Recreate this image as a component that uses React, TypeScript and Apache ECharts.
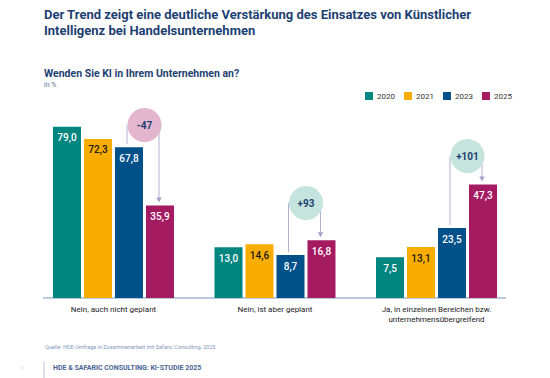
import React, { useEffect, useRef } from "react";
import * as echarts from "echarts";

const categories = [
  "Nein, auch nicht geplant",
  "Nein, ist aber geplant",
  "Ja, in einzelnen Bereichen bzw.\nunternehmensübergreifend",
];
const years = ["2020", "2021", "2023", "2025"];
const v2020 = [79.0, 13.0, 7.5];
const v2021 = [72.3, 14.6, 13.1];
const v2023 = [67.8, 8.7, 23.5];
const v2025 = [35.9, 16.8, 47.3];
const changeLabels = ["-47", "+93", "+101"];
const badgeLevels = [79.9, 37.2, 62.9];

const titleLines = [
  "Der Trend zeigt eine deutliche Verstärkung des Einsatzes von Künstlicher",
  "Intelligenz bei Handelsunternehmen",
];
const subtitle = "Wenden Sie KI in Ihrem Unternehmen an?";
const unit = "in %";
const source = "Quelle: HDE-Umfrage in Zusammenarbeit mit Safaric Consulting, 2025";
const footer = "HDE & SAFARIC CONSULTING: KI-STUDIE 2025";

const colors = ["#00857f", "#f8ad00", "#00508a", "#a51b62"];
const labelColors = ["#ffffff", "#1a1a1a", "#ffffff", "#ffffff"];
const NAVY = "#1d3f72";
const FONT = "Roboto, 'Noto Sans', sans-serif";

export default function App() {
  const ref = useRef<HTMLDivElement>(null);
  useEffect(() => {
    if (!ref.current) return;
    const chart = echarts.init(ref.current, null, { renderer: "svg" });
    const seriesValues = [v2020, v2021, v2023, v2025];
    const barSeries = years.map((y, k) => ({
      name: y,
      type: "bar",
      data: seriesValues[k],
      barWidth: 28,
      barGap: "10.7%",
      itemStyle: { color: colors[k] },
      label: {
        show: true,
        position: "insideTop",
        distance: 6,
        fontSize: 10,
        fontWeight: 500,
        fontFamily: FONT,
        color: labelColors[k],
        formatter: (p: any) => Number(p.value).toFixed(1).replace(".", ","),
      },
    }));
    const annData = categories.map((_, i) => [i, v2023[i], v2025[i], badgeLevels[i]]);
    const option: any = {
      animation: false,
      backgroundColor: "#ffffff",
      textStyle: { fontFamily: FONT },
      grid: { left: 32.75, right: 32.75, top: 100, bottom: 80 },
      legend: {
        data: years,
        left: 360,
        top: 87,
        itemWidth: 8,
        itemHeight: 8,
        itemGap: 9,
        icon: "rect",
        textStyle: { fontSize: 8, color: "#333", fontFamily: FONT, padding: [0, 0, 0, -1] },
      },
      xAxis: {
        type: "category",
        data: categories,
        axisLine: { show: false },
        axisTick: { show: false },
        axisLabel: {
          interval: 0,
          fontSize: 8,
          lineHeight: 9.5,
          color: "#222",
          margin: 7,
          align: "center",
          fontFamily: FONT,
        },
      },
      yAxis: {
        type: "value",
        min: -14.78,
        max: 93.6,
        startValue: -14.78,
        axisLine: { show: false },
        axisTick: { show: false },
        axisLabel: { show: false },
        splitLine: { show: false },
      },
      series: [
        ...barSeries,
        {
          type: "custom",
          name: "change",
          data: annData,
          z: 10,
          renderItem: (params: any, api: any) => {
            const i = params.dataIndex;
            const pBlue = api.coord([api.value(0), api.value(1)]);
            const pMag = api.coord([api.value(0), api.value(2)]);
            const pBadge = api.coord([api.value(0), api.value(3)]);
            const c = pBlue[0];
            const xl = c + 13.5;
            const xr = c + 45.5;
            const cx = c + 31;
            const cy = pBadge[1];
            const tip = pMag[1] - 3;
            const lineStyle = { stroke: "#aeb1d3", lineWidth: 1 };
            const neg = changeLabels[i].startsWith("-");
            return {
              type: "group",
              children: [
                { type: "line", shape: { x1: xl, y1: cy, x2: xl, y2: pBlue[1] - 3 }, style: lineStyle },
                { type: "line", shape: { x1: xr, y1: cy, x2: xr, y2: tip - 4 }, style: lineStyle },
                {
                  type: "polygon",
                  shape: { points: [[xr - 2.8, tip - 5], [xr + 2.8, tip - 5], [xr, tip]] },
                  style: { fill: "#a3a6cc" },
                },
                {
                  type: "circle",
                  shape: { cx, cy, r: 17 },
                  style: { fill: neg ? "#e3b6cd" : "#c6e4de" },
                },
                {
                  type: "text",
                  x: cx,
                  y: cy,
                  style: {
                    text: changeLabels[i],
                    align: "center",
                    verticalAlign: "middle",
                    fontSize: 10,
                    fontWeight: "bold",
                    fontFamily: FONT,
                    fill: NAVY,
                  },
                },
              ],
            };
          },
        },
      ],
      graphic: [
        {
          type: "text",
          left: 44,
          top: 6,
          style: {
            text: titleLines.join("\n"),
            fontSize: 13,
            lineHeight: 16,
            fontWeight: "bold",
            fontFamily: FONT,
            fill: NAVY,
          },
        },
        {
          type: "text",
          left: 44,
          top: 68,
          style: { text: subtitle, fontSize: 10.5, fontWeight: "bold", fontFamily: FONT, fill: NAVY },
        },
        {
          type: "text",
          left: 44,
          top: 81,
          style: { text: unit, fontSize: 7, fontFamily: FONT, fill: "#5d7296" },
        },
        {
          type: "line",
          shape: { x1: 43, y1: 298, x2: 506, y2: 298 },
          style: { stroke: "#7895bd", lineWidth: 1 },
        },
        {
          type: "text",
          left: 45,
          top: 344,
          style: { text: source, fontSize: 5.5, fontFamily: FONT, fill: "#8298bb" },
        },
        {
          type: "line",
          shape: { x1: 44, y1: 361, x2: 44, y2: 378 },
          style: { stroke: "#b9c2db", lineWidth: 1 },
        },
        {
          type: "text",
          left: 53,
          top: 364,
          style: { text: footer, fontSize: 7, fontWeight: "bold", fontFamily: FONT, fill: "#4a6495" },
        },
        {
          type: "text",
          left: 21,
          top: 365,
          style: { text: "1", fontSize: 5, fontFamily: FONT, fill: "#c8c8c8" },
        },
      ],
    };
    chart.setOption(option);
    return () => chart.dispose();
  }, []);
  return (
    <div
      ref={ref}
      style={{ position: "absolute", left: 0, top: 0, width: 550, height: 378, background: "#fff" }}
    />
  );
}
